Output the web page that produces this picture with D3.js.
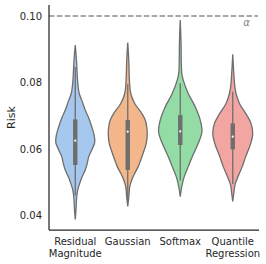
<!DOCTYPE html>
<html>
<head>
<meta charset="utf-8">
<script src="https://cdn.jsdelivr.net/npm/d3@7"></script>
<style>
  html, body { margin: 0; padding: 0; background: #fff; }
  svg { display: block; }
  text { font-family: "DejaVu Sans", sans-serif; fill: #262626; }
</style>
</head>
<body>
<svg id="chart" width="266" height="264"></svg>
<script>
// ---------- data ----------
const categories = ["Residual Magnitude", "Gaussian", "Softmax", "Quantile Regression"];
const categoryLines = [["Residual", "Magnitude"], ["Gaussian"], ["Softmax"], ["Quantile", "Regression"]];
const colors = ["#a6c8ef", "#f4b68b", "#93dca5", "#f3a5a2"];
const yTicks = [0.04, 0.06, 0.08, 0.10];
const alphaLevel = 0.10;

// violin density profiles (risk value, relative density)
const residualRisk    = [0.0913, 0.0868, 0.0800, 0.0767, 0.0747, 0.0717, 0.0697, 0.0667, 0.0640, 0.0620, 0.0597, 0.0577, 0.0557, 0.0537, 0.0517, 0.0497, 0.0477, 0.0457, 0.0420, 0.0388];
const residualDensity = [0, 1.2, 2.5, 4, 6.5, 10, 13, 16.5, 19, 19.5, 16.5, 13.5, 12, 10, 7, 4.5, 2.5, 1.5, 0.8, 0];
const gaussianRisk    = [0.0920, 0.0868, 0.0800, 0.0767, 0.0737, 0.0707, 0.0687, 0.0667, 0.0647, 0.0617, 0.0597, 0.0567, 0.0547, 0.0527, 0.0507, 0.0487, 0.0460, 0.0427];
const gaussianDensity = [0, 1, 1.8, 3, 7, 14, 17.5, 19, 19.5, 18.5, 16.5, 13, 10.5, 7, 4, 2, 1.2, 0];
const softmaxRisk     = [0.0988, 0.0920, 0.0868, 0.0828, 0.0807, 0.0767, 0.0727, 0.0687, 0.0652, 0.0617, 0.0577, 0.0547, 0.0517, 0.0487, 0.0457];
const softmaxDensity  = [0, 0.8, 1, 1.5, 3, 8, 15, 20, 21.7, 18, 12, 8, 4, 1.5, 0];
const quantileRisk    = [0.0885, 0.0830, 0.0790, 0.0767, 0.0737, 0.0707, 0.0677, 0.0647, 0.0617, 0.0577, 0.0547, 0.0517, 0.0492, 0.0470, 0.0442];
const quantileDensity = [0, 1, 2, 3.3, 6.7, 13, 18.3, 20, 18, 13, 9.5, 5.3, 2.2, 1.2, 0];

// box statistics
const q1 =        [0.0552, 0.0537, 0.0612, 0.0599];
const q3 =        [0.0689, 0.0687, 0.0702, 0.0677];
const medians =   [0.0625, 0.0652, 0.0653, 0.0637];
const whiskerLo = [0.0460, 0.0445, 0.0505, 0.0495];
const whiskerHi = [0.0847, 0.0795, 0.0798, 0.0772];

const violins = [
  { risk: residualRisk, density: residualDensity },
  { risk: gaussianRisk, density: gaussianDensity },
  { risk: softmaxRisk, density: softmaxDensity },
  { risk: quantileRisk, density: quantileDensity }
];

// ---------- layout ----------
const svg = d3.select("#chart");
const mLeft = 49, mRight = 259, mTop = 5, mBottom = 230;
const gray = "#6e6e6e";

const x = d3.scaleBand().domain(categories).range([mLeft, mRight]).padding(0);
const y = d3.scaleLinear().domain([0.03564, 0.10331]).range([mBottom, mTop]);
const maxDensity = d3.max(violins, v => d3.max(v.density));
const w = d3.scaleLinear().domain([0, maxDensity]).range([0, x.bandwidth() * 0.413]);

// dashed alpha line
svg.append("line")
  .attr("x1", mLeft).attr("x2", mRight - 1)
  .attr("y1", y(alphaLevel)).attr("y2", y(alphaLevel))
  .attr("stroke", "#8a8a8a").attr("stroke-width", 1.4)
  .attr("stroke-dasharray", "5.5,2.4");
svg.append("text")
  .attr("x", 246.5).attr("y", y(alphaLevel) + 9.5)
  .attr("text-anchor", "middle")
  .attr("font-size", 10).attr("font-style", "italic")
  .style("fill", "#808080")
  .text("α");

// violins
violins.forEach((v, i) => {
  const cx = x(categories[i]) + x.bandwidth() / 2;
  const pts = v.risk.map((r, k) => ({ r, d: v.density[k] }));
  const area = d3.area()
    .y(d => y(d.r))
    .x0(d => cx - w(d.d))
    .x1(d => cx + w(d.d))
    .curve(d3.curveCatmullRom.alpha(0.5));
  svg.append("path")
    .attr("d", area(pts))
    .attr("fill", colors[i])
    .attr("stroke", gray)
    .attr("stroke-width", 1.3);

  // whisker
  svg.append("line")
    .attr("x1", cx).attr("x2", cx)
    .attr("y1", y(whiskerHi[i])).attr("y2", y(whiskerLo[i]))
    .attr("stroke", gray).attr("stroke-width", 1.3);
  // box
  svg.append("rect")
    .attr("x", cx - 2.2).attr("width", 4.4)
    .attr("y", y(q3[i])).attr("height", y(q1[i]) - y(q3[i]))
    .attr("fill", gray);
  // median
  svg.append("circle")
    .attr("cx", cx).attr("cy", y(medians[i]))
    .attr("r", 1.1).attr("fill", "#fff");
});

// y axis
const yAxis = d3.axisLeft(y).tickValues(yTicks).tickFormat(d3.format(".2f")).tickSize(0).tickPadding(7);
const gy = svg.append("g").attr("transform", `translate(${mLeft},0)`).call(yAxis);
gy.select(".domain").remove();
gy.selectAll("text").attr("font-size", 10).style("font-family", "DejaVu Sans").style("fill", "#262626");

// x axis (custom multi-line labels)
const xAxis = d3.axisBottom(x).tickSize(0).tickFormat(() => "");
const gx = svg.append("g").attr("transform", `translate(0,${mBottom})`).call(xAxis);
gx.select(".domain").remove();
gx.selectAll(".tick").each(function(d, i) {
  const t = d3.select(this).select("text")
    .attr("y", 0).attr("dy", null)
    .attr("font-size", 10).style("font-family", "DejaVu Sans").style("fill", "#262626");
  categoryLines[i].forEach((line, k) => {
    t.append("tspan").attr("x", 0).attr("y", 15 + k * 11.8).text(line);
  });
});

// spines
svg.append("line").attr("x1", mLeft).attr("x2", mLeft).attr("y1", mTop).attr("y2", mBottom)
  .attr("stroke", "#262626").attr("stroke-width", 1.25);
svg.append("line").attr("x1", mLeft).attr("x2", mRight).attr("y1", mBottom).attr("y2", mBottom)
  .attr("stroke", "#262626").attr("stroke-width", 1.25);

// y label
svg.append("text")
  .attr("transform", `translate(15,${(mTop + mBottom) / 2}) rotate(-90)`)
  .attr("text-anchor", "middle")
  .attr("font-size", 11)
  .text("Risk");
</script>
</body>
</html>
